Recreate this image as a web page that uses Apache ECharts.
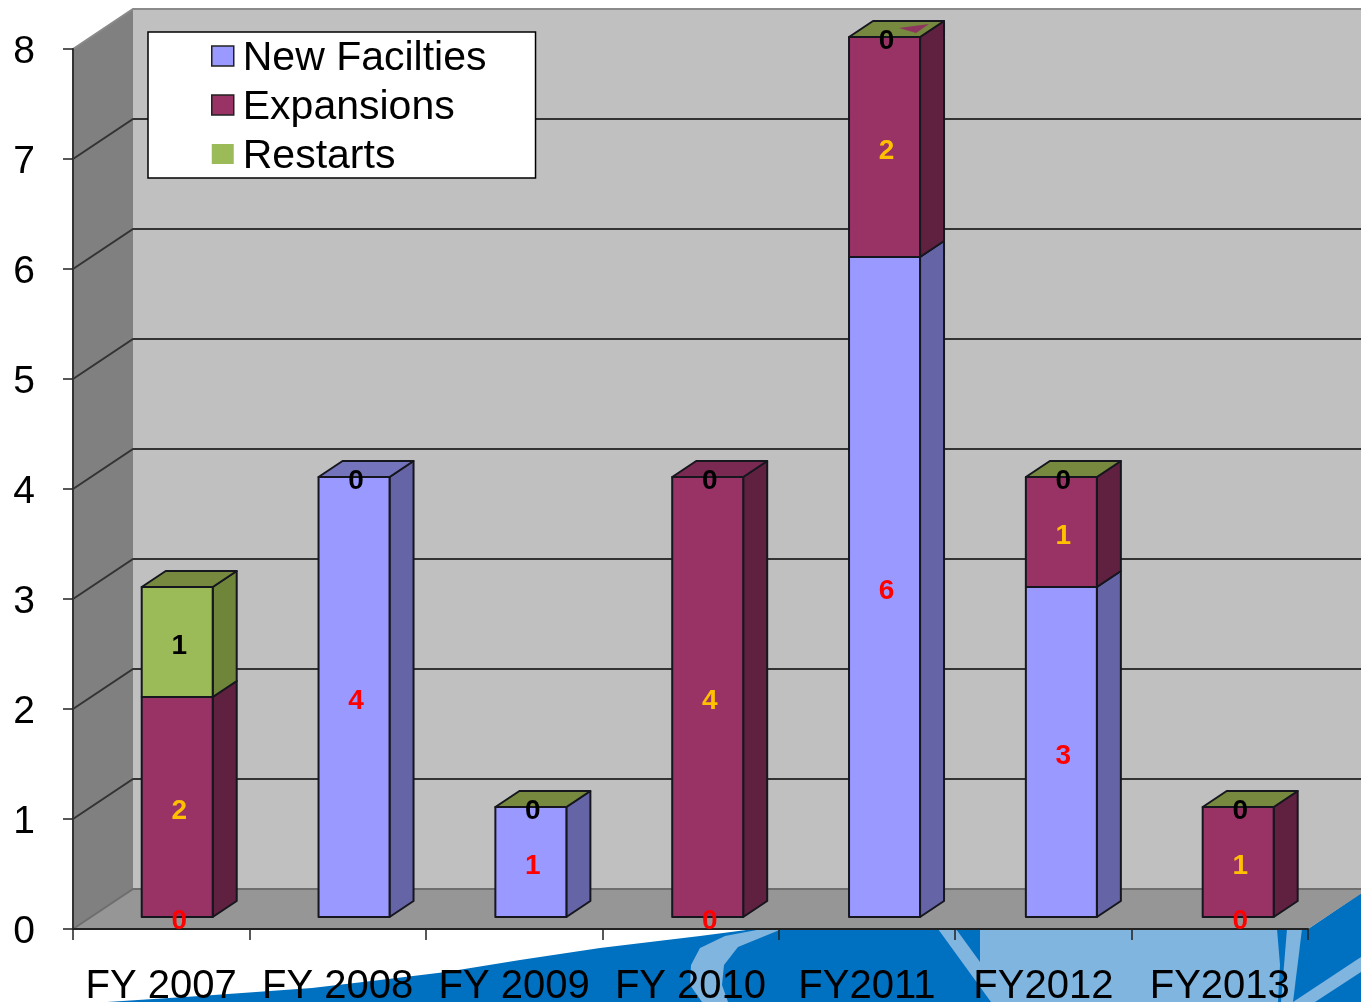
<!DOCTYPE html>
<html><head><meta charset="utf-8">
<style>html,body{margin:0;padding:0;background:#fff}#c{width:1361px;height:1002px}</style>
<script src="https://cdn.jsdelivr.net/npm/echarts@6/dist/echarts.min.js"></script>
</head><body><div id="c"></div>
<script>
const categories = ['FY 2007','FY 2008','FY 2009','FY 2010','FY2011','FY2012','FY2013'];
const newFacilities = [0,4,1,0,6,3,0];
const expansions = [2,0,0,4,2,1,1];
const restarts = [1,0,0,0,0,0,0];
const yTicks = [0,1,2,3,4,5,6,7,8];
const noRestartTop = ['FY 2008','FY 2010'];

const FONT = '"Liberation Sans", Arial, sans-serif';
const DEPTH = [60,-40];           // wall depth in pixels
const BAR = {dx:16, dy:-12, w:71, sx:24, sy:-16};
const LINE = '#16161e';
const STYLES = [
  {name:'New Facilties', front:'#9999ff', side:'#6464a6', top:'#7474bd', label:'#ff0000', values:newFacilities, base:[]},
  {name:'Expansions', front:'#993366', side:'#602040', top:'#7a2a52', label:'#ffc000', values:expansions, base:[newFacilities]},
  {name:'Restarts', front:'#9bbb59', side:'#6f8539', top:'#76893f', label:'#000000', values:restarts, base:[newFacilities,expansions]}
];

function wallItem(params, api){
  const v = api.value(0), cs = params.coordSys;
  const p = api.coord([0,v]);
  const x0 = cs.x, y = p[1], right = cs.x + cs.width;
  const kids = [];
  if (v === 0){
    const top = api.coord([0,8])[1];
    kids.push({type:'polygon', z2:0, shape:{points:[[x0+DEPTH[0],top+DEPTH[1]],[right+DEPTH[0],top+DEPTH[1]],[right+DEPTH[0],y+DEPTH[1]],[x0+DEPTH[0],y+DEPTH[1]]]}, style:{fill:'#c0c0c0'}});
    kids.push({type:'polygon', z2:1, shape:{points:[[x0,top],[x0+DEPTH[0],top+DEPTH[1]],[x0+DEPTH[0],y+DEPTH[1]],[x0,y]]}, style:{fill:'#808080'}});
    kids.push({type:'polygon', z2:1, shape:{points:[[x0,y],[x0+DEPTH[0],y+DEPTH[1]],[right+DEPTH[0],y+DEPTH[1]],[right,y]]}, style:{fill:'#969696'}});
  }
  const dark = v === 0 ? '#6e6e6e' : (v === 8 ? '#8a8a8a' : '#333333');
  kids.push({type:'polyline', z2:2, shape:{points:[[x0,y],[x0+DEPTH[0],y+DEPTH[1]],[right+DEPTH[0],y+DEPTH[1]]]}, style:{stroke:dark, lineWidth:2, fill:'none'}});
  return {type:'group', children:kids};
}

function barItem(st){
  return function(params, api){
    const i = api.value(0), val = api.value(1);
    let b = 0;
    st.base.forEach(a => { b += a[i]; });
    const c = api.coord([i,b]), d = api.coord([i,b+val]);
    const cx = c[0] + BAR.dx + i*0.4;
    const l = cx - BAR.w/2, r = l + BAR.w;
    const y0 = c[1] + BAR.dy, y1 = d[1] + BAR.dy;
    const kids = [];
    const edge = {stroke:LINE, lineWidth:2, lineJoin:'round'};
    if (val > 0){
      kids.push({type:'polygon', z2:20, shape:{points:[[r,y0],[r+BAR.sx,y0+BAR.sy],[r+BAR.sx,y1+BAR.sy],[r,y1]]}, style:Object.assign({fill:st.side},edge)});
      kids.push({type:'polygon', z2:21, shape:{points:[[l,y0],[r,y0],[r,y1],[l,y1]]}, style:Object.assign({fill:st.front},edge)});
    }
    if (st.name === 'Restarts'){
      const cat = categories[i];
      let topFill = st.top;
      if (noRestartTop.indexOf(cat) >= 0) topFill = newFacilities[i] > 0 ? STYLES[0].top : STYLES[1].top;
      kids.push({type:'polygon', z2:22, shape:{points:[[l,y1],[r,y1],[r+BAR.sx,y1+BAR.sy],[l+BAR.sx,y1+BAR.sy]]}, style:Object.assign({fill:topFill},edge)});
      if (cat === 'FY2011'){
        kids.push({type:'polygon', z2:23, shape:{points:[[r-21,y1-9],[r+9,y1-13],[r-4,y1-4]]}, style:{fill:'#8e3560'}});
      }
    }
    if (val > 0 || st.name !== 'Expansions'){
      const z = {'New Facilties':100,'Expansions':101,'Restarts':102}[st.name];
      kids.push({type:'text', z2:z, style:{x:cx+2, y:(y0+y1)/2+4, text:String(val), fill:st.label, font:'bold 28px '+FONT, align:'center', verticalAlign:'middle'}});
    }
    return {type:'group', children:kids};
  };
}

const chart = echarts.init(document.getElementById('c'), null, {renderer:'canvas'});
const BLUE = '#0070c0', LIGHT = '#80b5df';
chart.setOption({
  animation:false,
  backgroundColor:'#ffffff',
  graphic:{elements:[
    {type:'polygon', z:0, shape:{points:[[107,1002],[200,996],[312,988],[380,980],[446,972],[520,960],[600,948],[700,936],[754,929],[1308,929],[1361,893],[1361,1002]]}, style:{fill:BLUE}},
    {type:'polygon', z:0, shape:{points:[[762,929],[725,936],[700,948],[691,965],[690,985],[702,1002],[728,1002],[722,985],[724,965],[738,947],[782,929]]}, style:{fill:LIGHT}},
    {type:'polygon', z:0, shape:{points:[[938,929],[991,1002],[1278,1002],[1280,965],[1277,929],[980,929],[980,962],[956,929]]}, style:{fill:LIGHT}},
    {type:'polygon', z:0, shape:{points:[[1287,929],[1281,1002],[1293,1002],[1302,929]]}, style:{fill:LIGHT}},
    {type:'polygon', z:0, shape:{points:[[1293,1002],[1361,957],[1361,972],[1315,1002]]}, style:{fill:LIGHT}}
  ]},
  grid:{left:73, right:53, top:49, bottom:73, containLabel:false, outerBoundsMode:'none'},
  xAxis:{type:'category', data:categories, z:5,
    axisLine:{show:true, lineStyle:{color:'#222', width:2}},
    axisTick:{show:true, alignWithLabel:false, length:11, lineStyle:{color:'#222', width:1.5}},
    axisLabel:{color:'#000', fontFamily:FONT, fontSize:40, margin:38, interval:0, hideOverlap:false}
  },
  yAxis:{type:'value', min:0, max:8, interval:1, z:5,
    axisLine:{show:true, lineStyle:{color:'#333', width:2}},
    axisTick:{show:true, length:10, lineStyle:{color:'#222', width:1.5}},
    splitLine:{show:false},
    axisLabel:{color:'#000', margin:38, formatter:'{a|{value}}',
      rich:{a:{fontFamily:FONT, fontSize:39, color:'#000', padding:[6,0,0,0]}}}
  },
  legend:{show:true, orient:'vertical', left:148, top:32, z:20,
    data:[
      {name:'New Facilties', itemStyle:{borderColor:'#222', borderWidth:1.5}},
      {name:'Expansions', itemStyle:{borderColor:'#222', borderWidth:1.5}},
      {name:'Restarts'}
    ],
    icon:'rect', itemWidth:22, itemHeight:20, itemGap:3, selectedMode:false,
    backgroundColor:'#fff', borderColor:'#000', borderWidth:1.5,
    padding:[1,49,1,63],
    formatter:'{a|{name}}',
    textStyle:{color:'#000', rich:{a:{fontFamily:FONT, fontSize:41, color:'#000', lineHeight:39, padding:[5,0,0,4]}}}
  },
  series:[
    {type:'custom', name:'walls', z:1, silent:true, renderItem:wallItem, data:yTicks.map(v=>[v]), encode:{y:0}, clip:false},
  ].concat(STYLES.map(st=>({
    type:'custom', name:st.name, z:6, silent:true, clip:false,
    itemStyle:{color:st.front},
    renderItem:barItem(st),
    data:st.values.map((v,i)=>[i,v]),
    encode:{x:0,y:1}
  })))
});
</script></body></html>
